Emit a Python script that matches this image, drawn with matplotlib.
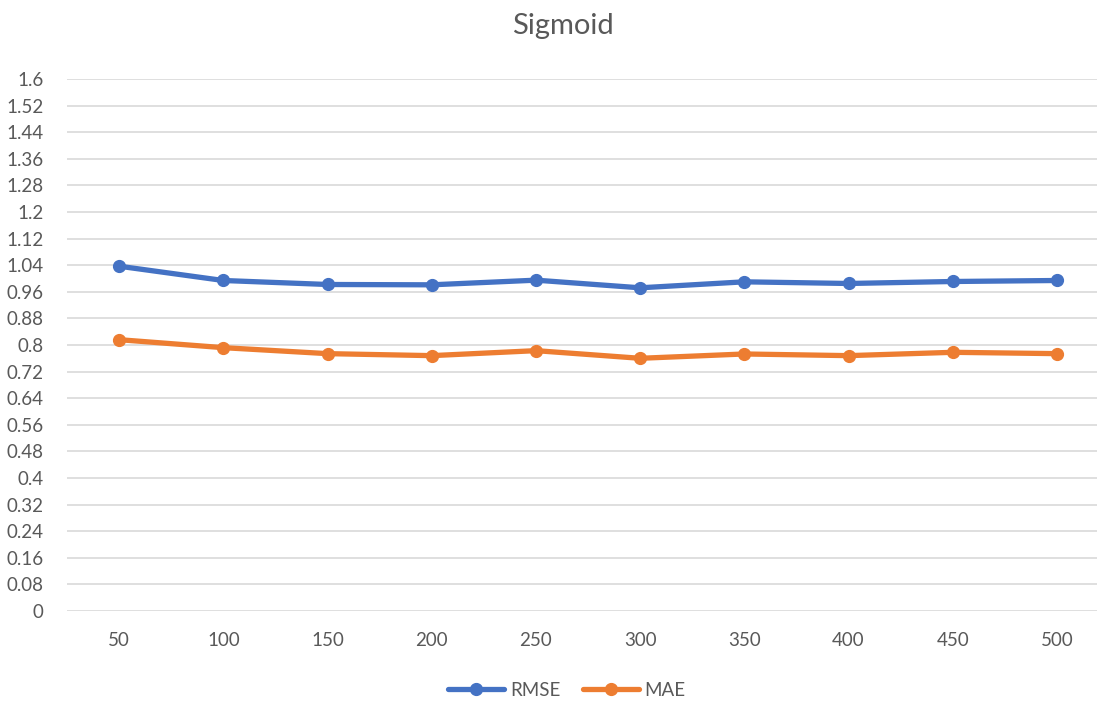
import numpy as np
import matplotlib.pyplot as plt

# data
epochs = ["50", "100", "150", "200", "250", "300", "350", "400", "450", "500"]
rmse = [1.037, 0.994, 0.982, 0.981, 0.995, 0.972, 0.990, 0.985, 0.991, 0.994]
mae = [0.816, 0.792, 0.774, 0.768, 0.783, 0.760, 0.773, 0.768, 0.778, 0.774]
yticks = np.round(np.arange(0, 1.61, 0.08), 2)

plt.rcParams['font.family'] = ['Lato', 'DejaVu Sans']
text_col = "#595959"

fig = plt.figure(figsize=(10.97, 7.04), dpi=100)
ax = fig.add_axes([67 / 1097, 93 / 704, 1030 / 1097, 532 / 704])

x = np.arange(len(epochs))
ax.plot(x, rmse, color="#4472C4", lw=3.8, marker="o", ms=8.5, label="RMSE",
        solid_capstyle="round")
ax.plot(x, mae, color="#ED7D31", lw=3.8, marker="o", ms=8.5, label="MAE",
        solid_capstyle="round")

ax.set_xlim(-0.5, 9.384)
ax.set_ylim(0, 1.6)
ax.set_xticks(x)
ax.set_xticklabels(epochs)
ax.set_yticks(yticks)
ax.set_yticklabels([f"{v:g}" for v in yticks])
ax.tick_params(axis="both", length=0, labelsize=13.5, colors=text_col)
ax.tick_params(axis="x", pad=15)
ax.tick_params(axis="y", pad=17)
ax.grid(axis="y", color="#d9d9d9", lw=1.2)
ax.set_axisbelow(True)
for s in ax.spines.values():
    s.set_visible(False)

fig.text(563 / 1097, 1 - 26 / 704, "Sigmoid", ha="center", va="center",
         fontsize=21, color=text_col)

fig.legend(loc="center", bbox_to_anchor=(567 / 1097, 1 - 690 / 704), ncol=2,
           frameon=False, fontsize=13.5, labelcolor=text_col,
           handlelength=3.0, handletextpad=0.3, columnspacing=1.2)

fig.savefig("out.png", dpi=100)
